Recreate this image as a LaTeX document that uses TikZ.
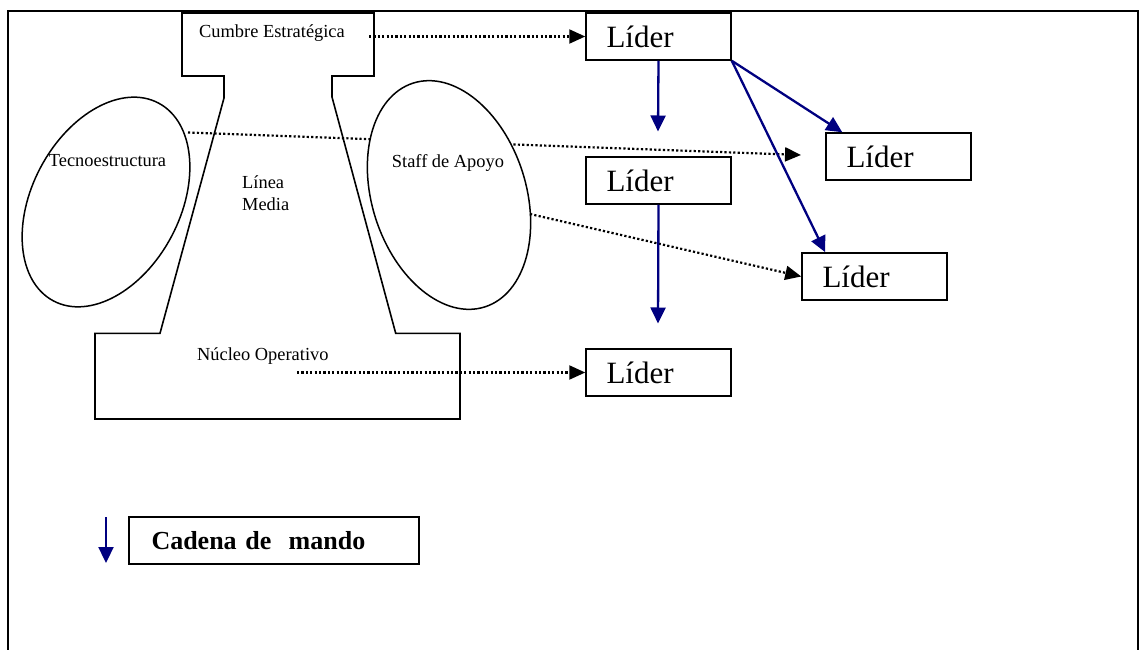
\documentclass[tikz,border=0pt]{standalone}
\usepackage{fontspec}
\setmainfont{Liberation Serif}
\usetikzlibrary{arrows.meta,shapes.geometric,calc}
\definecolor{navyblue}{RGB}{0,0,128}
\begin{document}
\begin{tikzpicture}[x=1pt,y=-1pt,
  every node/.style={font=\fontsize{18.4}{22}\selectfont, inner sep=0pt},
  thin line/.style={line width=1.6pt},
  lbox/.style={draw, line width=1.5pt, minimum width=145pt, minimum height=47pt,
    font=\fontsize{31}{36}\selectfont, text width=104pt, inner xsep=20.5pt, inner ysep=0pt, align=left},
  legbox/.style={draw, line width=1.6pt, minimum width=290pt, minimum height=47pt,
    font=\fontsize{26}{30}\selectfont\bfseries, text width=245pt, inner xsep=22.5pt, inner ysep=0pt, align=left},
  blob/.style={draw, ellipse, line width=1.5pt, fill=white},
  command/.style={draw=navyblue, line width=2.3pt, -{Triangle[length=16pt,width=15pt,fill=navyblue]}},
  relation/.style={draw=black, line width=2.2pt, dash pattern=on 2.2pt off 2.2pt, -{Triangle[length=16pt,width=14pt]}},
]
\useasboundingbox (0,0) rectangle (1140,650);
% outer frame (open at the bottom)
\draw[thin line] (8,650) -- (8,11) -- (1138,11) -- (1138,650);

% Liders
\node[lbox] (tL) at (658.5,36.5) {Líder};
\node[lbox] (mL) at (658.5,180.5) {Líder};
\node[lbox] (rU) at (898.5,156.5) {Líder};
\node[lbox] (rL) at (874.5,276.5) {Líder};
\node[lbox] (bL) at (658.5,372.5) {Líder};

% long dotted connector behind the Staff ellipse
\coordinate (tecR) at (188,132.5);
\coordinate (rUin) at (801,155);
\draw[relation] (tecR) -- (rUin);

% ellipses
\node[blob, minimum width=148pt, minimum height=224pt, rotate=-28] (tecno) at (106,202) {};
\node[blob, minimum width=154pt, minimum height=235pt, rotate=17.8] (staff) at (449,195) {};

% Mintzberg figure
\draw[thin line] (182,13) -- (374,13) -- (374,76) -- (332,76) -- (332,97)
  -- (395.7,333.3) -- (460,333.3) -- (460,419) -- (95,419) -- (95,333.3)
  -- (160,333.3) -- (224,98) -- (224,76) -- (182,76) -- cycle;

% labels
\node[anchor=base west] (cumbre) at (199,38) {Cumbre Estratégica};
\node[anchor=base] (tecnoT) at (107.5,166.5) {Tecnoestructura};
\node[anchor=base] (staffT) at (448,167) {Staff de Apoyo};
\node[anchor=base west] (linea) at (242,188) {Línea};
\node[anchor=base west] (media) at (242,210) {Media};
\node[anchor=base west] (nucleo) at (197,360) {Núcleo Operativo};

% dotted relations
\coordinate (cumR) at (369,36.5);
\draw[relation] (cumR) -- (tL.west);
\coordinate (staffR) at (530,214);
\draw[relation] (staffR) -- (rL.west);
\coordinate (nucR) at (297,372.5);
\draw[relation] (nucR) -- (bL.west);

% chain of command
\coordinate (c1) at (658,131.5);
\draw[command] (tL.south) -- (c1);
\coordinate (c2) at (658,323.5);
\draw[command] (mL.south) -- (c2);
\draw[command] (tL.south east) -- ($(rU.north west)+(17,0)$);
\draw[command] (tL.south east) -- ($(rL.north west)+(24,0)$);

% legend
\coordinate (lg1) at (106,517);
\coordinate (lg2) at (106,563);
\draw[command] (lg1) -- (lg2);
\node[legbox] (cadena) at (274,540.5) {Cadena de\ \ mando};
\end{tikzpicture}
\end{document}
